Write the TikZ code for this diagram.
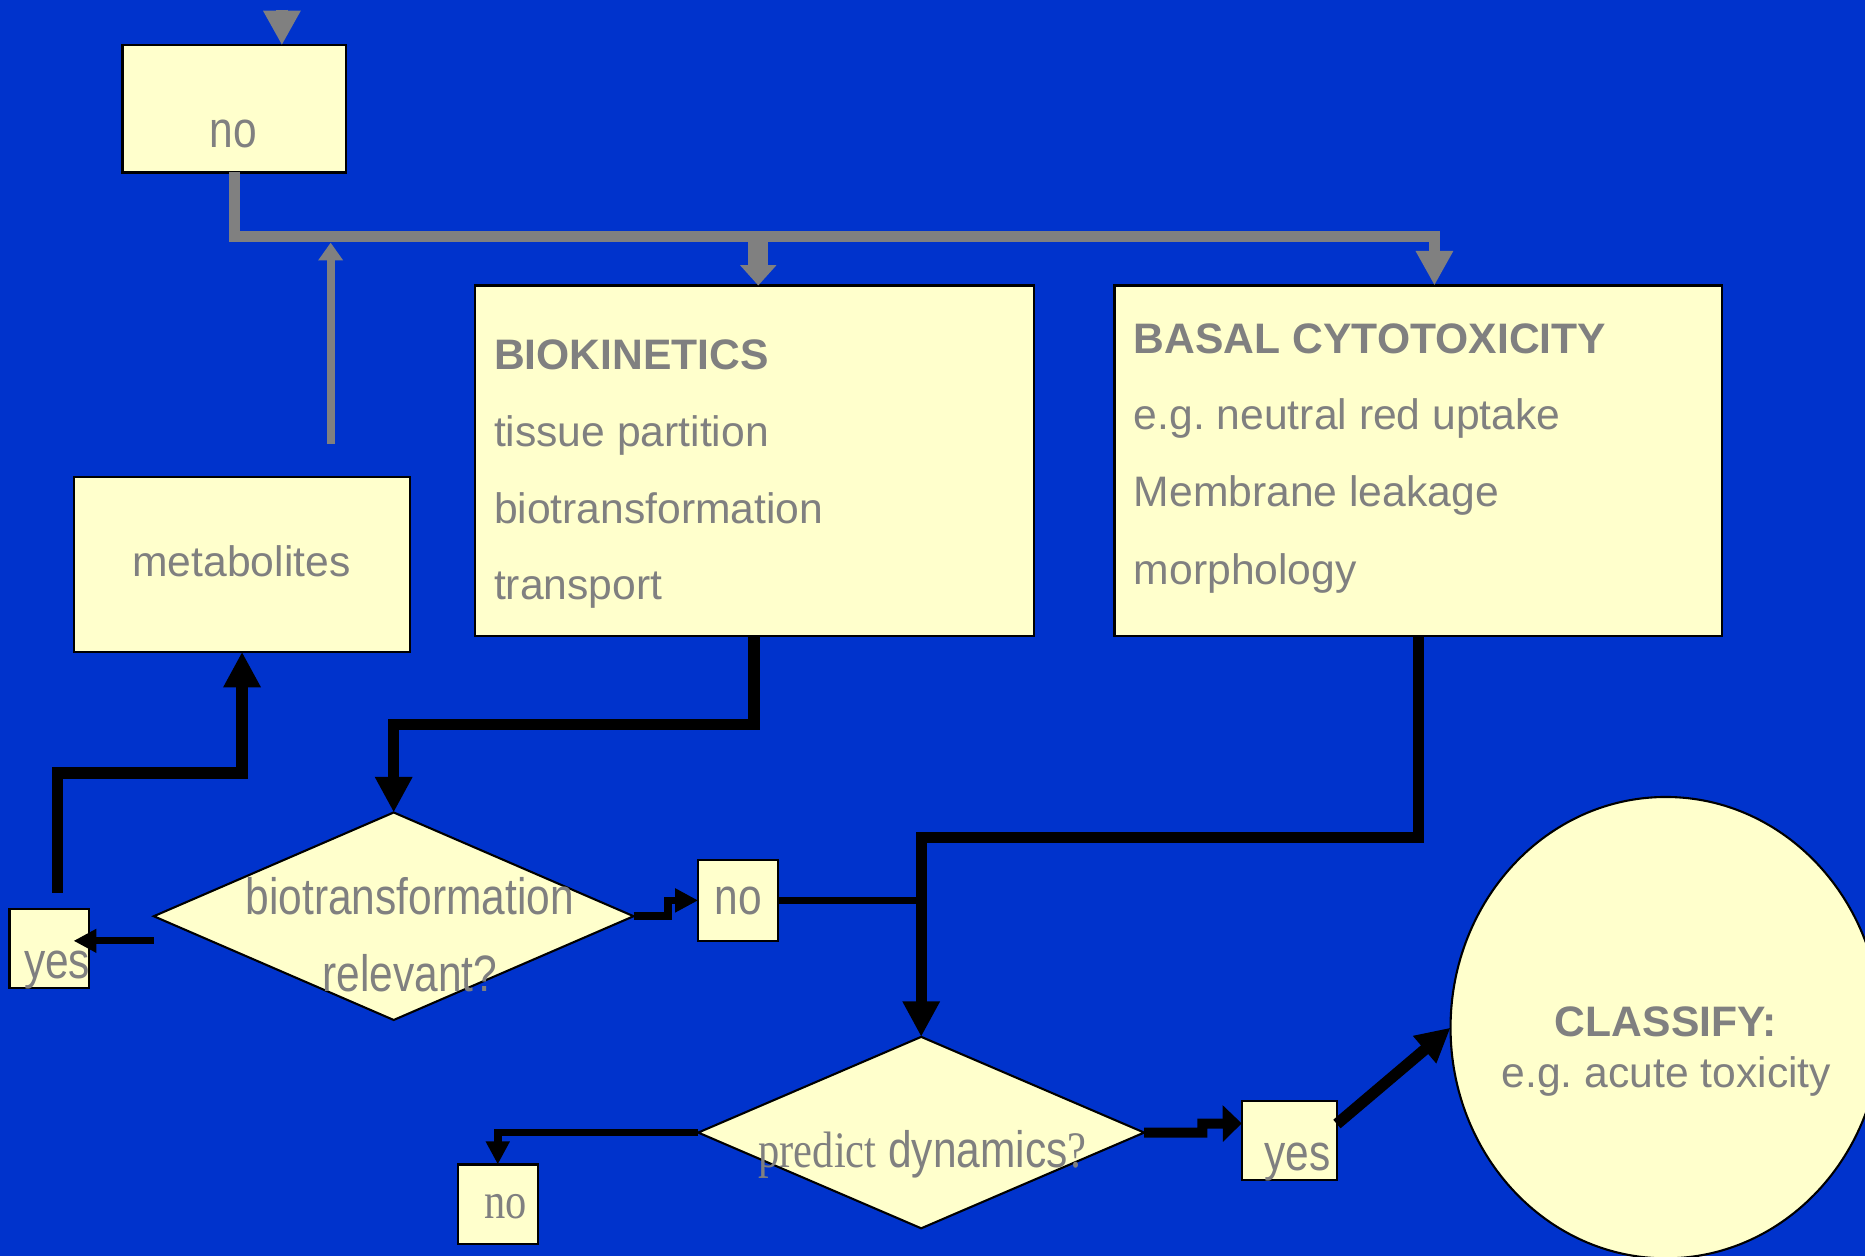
\documentclass[tikz,border=0pt]{standalone}
\usepackage{fontspec}
\setmainfont{Liberation Sans}
\newfontfamily\narrowsans[FakeStretch=0.83]{Liberation Sans}
\newfontfamily\narrowserif[FakeStretch=0.83]{Liberation Serif}
\usetikzlibrary{arrows.meta,shapes.geometric,fit,calc}
\definecolor{bgblue}{RGB}{0,51,204}
\definecolor{paper}{RGB}{255,255,204}
\definecolor{inkgray}{RGB}{128,128,128}
\frenchspacing
\begin{document}
\begin{tikzpicture}[x=0.02cm, y=-0.02cm,
  box/.style={draw=black, line width=1pt, fill=paper, inner sep=0pt, outer sep=0pt},
  dia/.style={diamond, draw=black, line width=1pt, fill=paper, inner sep=0pt, outer sep=0pt},
  txt/.style={text=inkgray, inner sep=0pt, font=\fontsize{20.4}{24}\selectfont},
  btxt/.style={text=inkgray, inner sep=0pt, font=\fontsize{20.4}{24}\selectfont\bfseries},
  ntxt/.style={text=inkgray, inner sep=0pt, font=\fontsize{24.5}{29}\narrowsans},
  stxt/.style={text=inkgray, inner sep=0pt, font=\fontsize{24.5}{29}\narrowserif},
  wire/.style={draw=black, line width=5.4pt},
  thinwire/.style={draw=black, line width=3.6pt},
  greywire/.style={draw=inkgray, line width=5.4pt},
  bigtip/.style={-{Triangle[length=17pt,width=16.8pt]}},
  smalltip/.style={-{Triangle[length=11pt,width=10.8pt]}},
  greytip/.style={-{Triangle[length=16.5pt,width=16.8pt]}},
]
% background
\fill[bgblue] (0,0) rectangle (1568,1056);
\useasboundingbox (0,0) rectangle (1568,1056);

% boxes
\node[box, fit={(103,38) (291,145)}] (topno) {};
\node[box, fit={(62,401) (345,548)}] (metab) {};
\node[box, fit={(399,240) (869,535)}] (bio) {};
\node[box, fit={(937,240) (1448,535)}] (basal) {};
\node[box, fit={(587,723) (654,791)}] (no1) {};
\node[box, fit={(8,764) (75,831)}] (yes1) {};
\node[box, fit={(1044,926) (1124,992)}] (yes2) {};
\node[box, fit={(385,979) (452,1046)}] (no2) {};

% decisions
\node[dia, minimum width=8.07cm, minimum height=3.49cm] (d1) at (331,770.3) {};
\node[dia, minimum width=7.5cm, minimum height=3.22cm] (d2) at (774.5,952.2) {};

% outcome
\node[ellipse, draw=black, line width=1pt, fill=paper, inner sep=0pt, outer sep=0pt,
      minimum width=7.24cm, minimum height=7.76cm] (cls) at (1400.5,864) {};

% texts
\node[ntxt, anchor=base] (topnot) at (196,124) {no};
\node[txt, anchor=base] (metabt) at (203,485) {metabolites};

\node[btxt, anchor=base west] (bio1) at (415,311) {BIOKINETICS};
\node[txt, anchor=base west] (bio2) at (415,375) {tissue partition};
\node[txt, anchor=base west] (bio3) at (415,440) {biotransformation};
\node[txt, anchor=base west] (bio4) at (415,504) {transport};

\node[btxt, anchor=base west] (bas1) at (953,297) {BASAL CYTOTOXICITY};
\node[txt, anchor=base west] (bas2) at (953,361) {e.g. neutral red uptake};
\node[txt, anchor=base west] (bas3) at (953,426) {Membrane leakage};
\node[txt, anchor=base west] (bas4) at (953,491) {morphology};

\node[ntxt, anchor=base] (d1a) at (344.6,768.6) {biotransformation};
\node[ntxt, anchor=base] (d1b) at (344.6,834) {relevant?};
\node[ntxt, anchor=base] (no1t) at (620.5,769) {no};
\node[ntxt, anchor=base] (yes1t) at (48,822.5) {yes};

\node[ntxt, anchor=base] (d2t) at (775.7,981.5) {{\narrowserif predict} dynamics{\narrowserif ?}};
\node[ntxt, anchor=base] (yes2t) at (1091,984) {yes};
\node[stxt, anchor=base] (no2t) at (424.8,1024.5) {no};

\node[btxt, anchor=base] (cls1) at (1400.6,871) {CLASSIFY:};
\node[txt, anchor=base] (cls2) at (1401,914) {e.g. acute toxicity};

% grey connectors
\coordinate (feed) at (237,8);
\draw[greywire, greytip] (feed) -- (feed |- topno.north);
\draw[greywire, greytip] (topno.south) -- ++(0,54) -| ($(basal.north)+(13.5,0)$);
\draw[draw=inkgray, line width=9.4pt, -{Triangle[length=9.7pt,width=16.8pt]}]
  ($(bio.north)+(3.5,-41)$) -- ($(bio.north)+(3.5,0)$);
\coordinate (mfeed) at (278,373);
\coordinate (mjoin) at (278,204);
\draw[draw=inkgray, line width=3.9pt, -{Triangle[length=8.5pt,width=11.4pt]}] (mfeed) -- (mjoin);

% black connectors
\draw[wire, bigtip] (bio.south) -- ++(0,74) -| (d1.north);
\draw[wire, bigtip] (basal.south) -- ++(0,169) -| (d2.north);
\draw[thinwire] (no1.east) -- (no1.east -| d2.north);
\draw[thinwire, smalltip] (d1.east) -- ++(29,0) |- (no1.west);

\coordinate (yesfrom) at (129.3,791);
\coordinate (yesto) at (61.8,791);
\draw[draw=black, line width=3.4pt, smalltip] (yesfrom) -- (yesto);

\coordinate (yesup) at (48.6,750.5);
\draw[wire, bigtip] (yesup) -- ++(0,-100.5) -| (metab.south);

\draw[thinwire, smalltip] (d2.west) -| (no2.north);
\draw[draw=black, line width=4.8pt, -{Triangle[length=9.1pt,width=17pt]}]
  (d2.east) -- ++(49,0) -- ++(0,-7.5) -- ($(yes2.west)+(0,-14.5)$);
\draw[wire, -{Triangle[length=16.3pt,width=16.1pt]}] ($(yes2.east)+(0,-14)$) -- (cls.west);
\end{tikzpicture}
\end{document}
